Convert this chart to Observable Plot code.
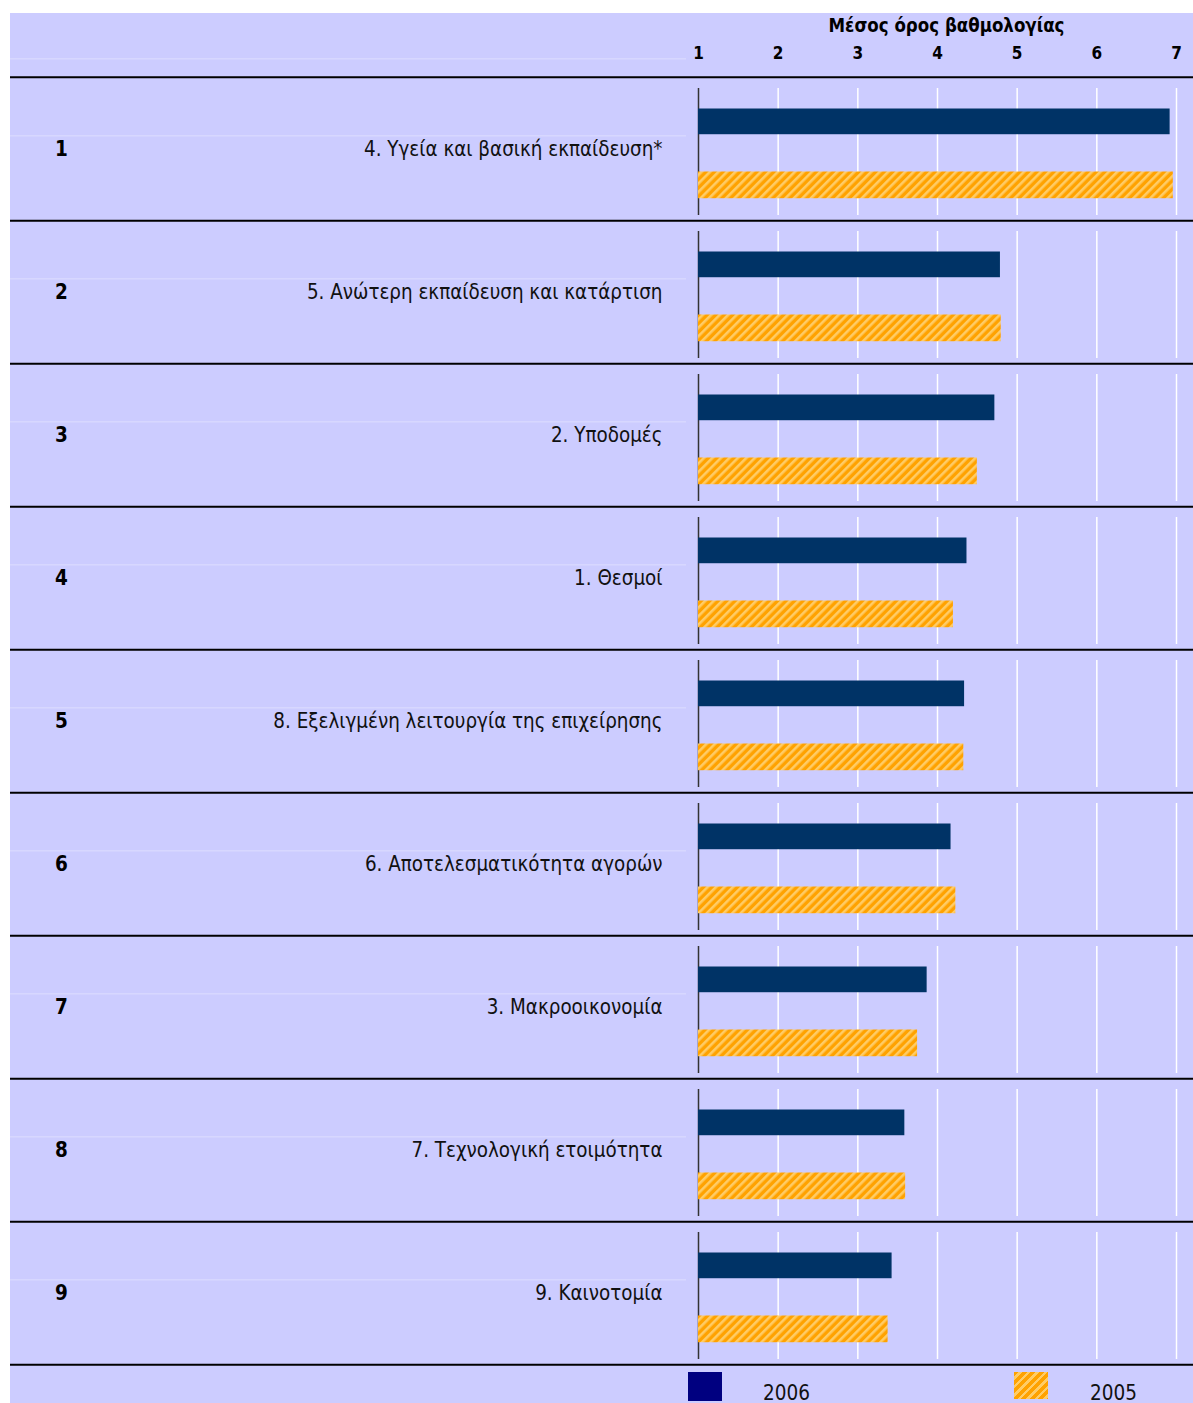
<!DOCTYPE html>
<html><head><meta charset="utf-8">
<script src="https://cdn.jsdelivr.net/npm/d3@7"></script>
<script src="https://cdn.jsdelivr.net/npm/@observablehq/plot@0.6"></script>
<style>
body{margin:0;background:#fff;}
#wrap{position:absolute;left:10px;top:13px;width:1183px;background:#CCCCFF;}
#chart svg{display:block;}
#legend{position:relative;height:36px;background:#CCCCFF;font-family:"DejaVu Sans Condensed","DejaVu Sans",sans-serif;}
#legend .sw{position:absolute;}
#legend .lt{position:absolute;font-size:20.5px;line-height:1;color:#111;}
</style></head><body><div id="wrap"><div id="chart"></div><div id="legend"></div></div>
<script>
const ranks = ["1","2","3","4","5","6","7","8","9"];
const labels = [
  "4. Υγεία και βασική εκπαίδευση*",
  "5. Ανώτερη εκπαίδευση και κατάρτιση",
  "2. Υποδομές",
  "1. Θεσμοί",
  "8. Εξελιγμένη λειτουργία της επιχείρησης",
  "6. Αποτελεσματικότητα αγορών",
  "3. Μακροοικονομία",
  "7. Τεχνολογική ετοιμότητα",
  "9. Καινοτομία"
];
const values2006 = [6.92, 4.79, 4.72, 4.37, 4.34, 4.17, 3.87, 3.59, 3.43];
const values2005 = [6.96, 4.80, 4.50, 4.20, 4.33, 4.23, 3.75, 3.60, 3.38];
const ticks = [1, 2, 3, 4, 5, 6, 7];
const axisTitle = "Μέσος όρος βαθμολογίας";
const years = ["2006", "2005"];

const rows = ranks.map((r, i) => ({rank: r, label: labels[i], v2006: values2006[i], v2005: values2005[i]}));
const grid = rows.flatMap(r => ticks.slice(1).map(t => ({rank: r.rank, t})));

const W = 1183, H = 1354;
const xRange = [688, 1166];
const yRange = [62.5, 1352];
const bw = (yRange[1] - yRange[0]) / ranks.length;
const xAtFrameLeft = 1 - xRange[0] / ((xRange[1] - xRange[0]) / 6); // domain value at the left edge of the frame
const font = '"DejaVu Sans Condensed", "DejaVu Sans", sans-serif';
const hatchLight = "#FFCC66", hatchDark = "#FFA200";

const defs = () => {
  const d = d3.create("svg:defs");
  const p = d.append("pattern").attr("id", "hatch").attr("patternUnits", "userSpaceOnUse")
    .attr("width", 6).attr("height", 6).attr("patternTransform", "rotate(45)");
  p.append("rect").attr("width", 6).attr("height", 6).attr("fill", hatchDark);
  p.append("rect").attr("width", 2.6).attr("height", 6).attr("fill", hatchLight);
  return d.node();
};

const chart = Plot.plot({
  width: W, height: H, margin: 0,
  style: {background: "transparent", overflow: "visible"},
  x: {domain: [1, 7], range: xRange, axis: null},
  y: {type: "band", domain: ranks, range: yRange, padding: 0, axis: null},
  marks: [
    defs,
    Plot.ruleY(rows, {y: "rank", x1: () => xAtFrameLeft, x2: () => 1, dx: -12, dy: 58.5 - bw / 2, stroke: "#fff", strokeOpacity: 0.35}),
    Plot.ruleY([ranks[0]], {y: d => d, x1: () => xAtFrameLeft, x2: () => 1, dx: -12, dy: 44 - (yRange[0] + bw / 2), stroke: "#fff", strokeOpacity: 0.35}),
    Plot.tickX(grid, {x: "t", y: "rank", stroke: "#fff", strokeWidth: 1.5, insetTop: 11, insetBottom: 5}),
    Plot.tickX(rows, {x: () => 1, y: "rank", stroke: "#333", strokeWidth: 1.5, insetTop: 11, insetBottom: 5}),
    Plot.barX(rows, {x1: () => 1, x2: "v2006", y: "rank", fill: "#003366", insetTop: 31.5, insetBottom: bw - 31.5 - 26}),
    Plot.barX(rows, {x1: () => 1, x2: "v2005", y: "rank", fill: "url(#hatch)", insetTop: 94.5, insetBottom: bw - 94.5 - 27}),
    Plot.ruleY(rows, {y: "rank", dy: bw / 2, stroke: "#000", strokeWidth: 2}),
    Plot.ruleY([ranks[0]], {y: d => d, dy: -bw / 2, stroke: "#000", strokeWidth: 2}),
    Plot.text(rows, {y: "rank", text: "rank", frameAnchor: "left", lineAnchor: "middle", dx: 51, dy: 0, textAnchor: "middle",
      fontWeight: "bold", fontSize: 20.5, fontFamily: font, fill: "#000"}),
    Plot.text(rows, {y: "rank", text: "label", x: () => 1, dx: -36, dy: 0, textAnchor: "end",
      fontSize: 20.4, fontFamily: font, fill: "#111"}),
    Plot.text(ticks, {x: d => d, text: d => String(d), frameAnchor: "top", lineAnchor: "middle", dy: 40,
      fontWeight: "bold", fontSize: 17, fontFamily: font, fill: "#000"}),
    Plot.text([axisTitle], {x: () => 4, text: d => d, frameAnchor: "top", lineAnchor: "middle", dy: 13, dx: 9,
      fontWeight: "bold", fontSize: 18.5, fontFamily: font, fill: "#000"})
  ]
});
document.getElementById("chart").appendChild(chart);

// legend
const legend = d3.select("#legend");
const legendItems = [
  {year: years[0], bg: "#000080", left: 678, h: 29, textLeft: 753},
  {year: years[1], bg: `repeating-linear-gradient(135deg, ${hatchDark} 0px, ${hatchDark} 3.4px, ${hatchLight} 3.4px, ${hatchLight} 6px)`, left: 1004, h: 27, textLeft: 1080}
];
for (const it of legendItems) {
  legend.append("div").attr("class", "sw")
    .style("left", it.left + "px").style("top", "5px").style("width", "34px").style("height", it.h + "px")
    .style("background", it.bg);
  legend.append("div").attr("class", "lt").style("left", it.textLeft + "px").style("top", "16px").text(it.year);
}
</script></body></html>
